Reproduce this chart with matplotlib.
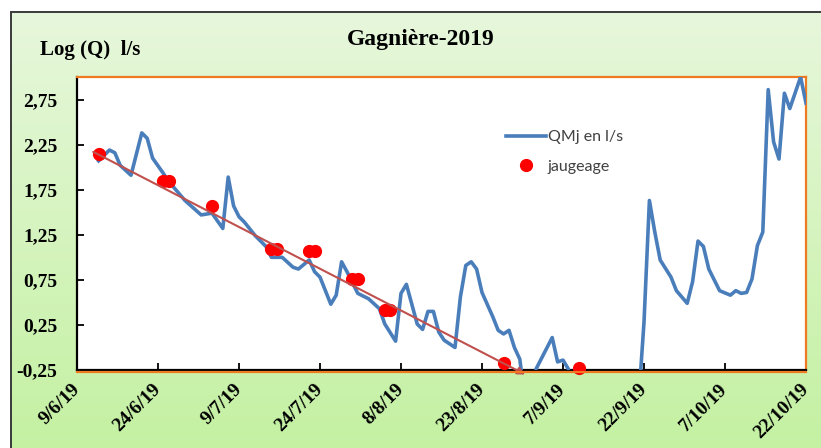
"""Gagnière 2019: log of daily flow with gaugings, Excel-style chart."""

import datetime as dt

import matplotlib

matplotlib.use("Agg")

import matplotlib.dates as mdates
import matplotlib.pyplot as plt
import numpy as np
from matplotlib.colors import LinearSegmentedColormap
from matplotlib.patches import Rectangle
from matplotlib.ticker import FixedLocator, FuncFormatter

# ── Data ────────────────────────────────────────────────────────────
# QMj: log10 of the daily mean flow (l/s); values under -0,25 fall off the axis
qmj_dates = [
    "2019-06-13", "2019-06-15", "2019-06-16", "2019-06-17", "2019-06-19",
    "2019-06-21", "2019-06-22", "2019-06-23", "2019-06-25", "2019-06-26",
    "2019-06-29", "2019-07-02", "2019-07-04", "2019-07-06", "2019-07-07",
    "2019-07-08", "2019-07-09", "2019-07-10", "2019-07-12", "2019-07-14",
    "2019-07-15", "2019-07-17", "2019-07-19", "2019-07-20", "2019-07-22",
    "2019-07-23", "2019-07-24", "2019-07-26", "2019-07-27", "2019-07-28",
    "2019-07-29", "2019-07-31", "2019-08-02", "2019-08-04", "2019-08-05",
    "2019-08-07", "2019-08-08", "2019-08-09", "2019-08-11", "2019-08-12",
    "2019-08-13", "2019-08-14", "2019-08-15", "2019-08-16", "2019-08-18",
    "2019-08-19", "2019-08-20", "2019-08-21", "2019-08-22", "2019-08-23",
    "2019-08-25", "2019-08-26", "2019-08-27", "2019-08-28", "2019-08-29",
    "2019-08-30", "2019-08-31", "2019-09-01", "2019-09-02", "2019-09-05",
    "2019-09-06", "2019-09-07", "2019-09-08", "2019-09-09", "2019-09-21",
    "2019-09-22", "2019-09-23", "2019-09-24", "2019-09-25", "2019-09-27",
    "2019-09-28", "2019-09-30", "2019-10-01", "2019-10-02", "2019-10-03",
    "2019-10-04", "2019-10-06", "2019-10-08", "2019-10-09", "2019-10-10",
    "2019-10-11", "2019-10-12", "2019-10-13", "2019-10-14", "2019-10-15",
    "2019-10-16", "2019-10-17", "2019-10-18", "2019-10-19", "2019-10-21",
    "2019-10-22",
]
qmj_log = [
    2.07, 2.19, 2.16, 2.02, 1.91,
    2.38, 2.32, 2.10, 1.93, 1.84,
    1.63, 1.47, 1.49, 1.32, 1.89,
    1.57, 1.45, 1.39, 1.24, 1.12,
    1.00, 1.00, 0.89, 0.87, 0.97,
    0.84, 0.78, 0.48, 0.58, 0.95,
    0.84, 0.60, 0.54, 0.43, 0.26,
    0.07, 0.60, 0.70, 0.26, 0.20,
    0.40, 0.40, 0.17, 0.08, 0.00,
    0.56, 0.91, 0.95, 0.87, 0.61,
    0.34, 0.19, 0.15, 0.19, 0.00,
    -0.13, -0.60, -0.60, -0.24, 0.11,
    -0.16, -0.14, -0.24, -0.60, -0.60,
    0.28, 1.63, 1.28, 0.97, 0.78,
    0.63, 0.49, 0.73, 1.18, 1.12,
    0.87, 0.63, 0.58, 0.63, 0.60,
    0.61, 0.76, 1.13, 1.28, 2.86,
    2.28, 2.09, 2.82, 2.65, 3.00,
    2.71,
]

jaug_dates = [
    "2019-06-13", "2019-06-25", "2019-06-26", "2019-07-04", "2019-07-15",
    "2019-07-16", "2019-07-22", "2019-07-23", "2019-07-30", "2019-07-31",
    "2019-08-05", "2019-08-06", "2019-08-27", "2019-09-10",
]
jaug_log = [
    2.15, 1.85, 1.85, 1.57, 1.09,
    1.09, 1.07, 1.07, 0.76, 0.76,
    0.42, 0.42, -0.17, -0.23,
]

# hand-drawn recession arrow (start, end)
trend_dates = ["2019-06-12", "2019-08-31"]
trend_log = [2.17, -0.30]

x_ticks = ["2019-06-09", "2019-06-24", "2019-07-09", "2019-07-24", "2019-08-08",
           "2019-08-23", "2019-09-07", "2019-09-22", "2019-10-07", "2019-10-22"]
y_ticks = [-0.25, 0.25, 0.75, 1.25, 1.75, 2.25, 2.75]

# ── Style ───────────────────────────────────────────────────────────
SERIF = "Liberation Serif"
BLUE = "#4a7ebb"
RED = "#ff0000"
ARROW = "#c0504d"
ORANGE = "#f07a22"
W, H = 821, 448


def to_dates(values):
    return [dt.datetime.strptime(v, "%Y-%m-%d") for v in values]


fig = plt.figure(figsize=(W / 100, H / 100), dpi=100)
fig.patch.set_facecolor("white")

# green gradient chart area with its dark frame
bg = fig.add_axes([11 / W, 0, 1 - 11 / W, 1 - 12 / H])
bg.set_axis_off()
cmap = LinearSegmentedColormap.from_list("grn", ["#e7f7dc", "#c4f1a2"])
bg.imshow(np.linspace(0, 1, 256).reshape(-1, 1), aspect="auto", cmap=cmap,
          extent=[0, 1, 0, 1], origin="upper")
bg.set_xlim(0, 1)
bg.set_ylim(0, 1)
bg.add_patch(Rectangle((0, -0.1), 1.2, 1.1, fill=False, edgecolor="#3a3a3a",
                       linewidth=1.4, transform=bg.transAxes, clip_on=False))

ax = fig.add_axes([77 / W, (H - 370) / H, (806 - 77) / W, (370 - 77) / H])
ax.set_facecolor("white")

ax.plot(to_dates(qmj_dates), qmj_log, color=BLUE, linewidth=2.6,
        solid_joinstyle="round", label="QMj en l/s", zorder=3)
ax.plot(to_dates(jaug_dates), jaug_log, linestyle="none", marker="o",
        markersize=8.5, color=RED, label="jaugeage", zorder=4, clip_on=False)

td = to_dates(trend_dates)
ax.annotate("", xy=(td[1], trend_log[1]), xytext=(td[0], trend_log[0]),
            arrowprops=dict(arrowstyle="-|>", color=ARROW, lw=1.5,
                            mutation_scale=11, shrinkA=0, shrinkB=0),
            annotation_clip=False, zorder=5)

ax.set_xlim(dt.datetime(2019, 6, 9), dt.datetime(2019, 10, 22))
ax.set_ylim(-0.25, 3.0)

ax.xaxis.set_major_locator(FixedLocator(mdates.date2num(to_dates(x_ticks))))
ax.xaxis.set_major_formatter(FuncFormatter(
    lambda v, _: (lambda d: f"{d.day}/{d.month}/{d:%y}")(mdates.num2date(v))))
ax.yaxis.set_major_locator(FixedLocator(y_ticks))
ax.yaxis.set_major_formatter(FuncFormatter(lambda v, _: f"{v:.2f}".replace(".", ",")))

ax.tick_params(direction="in", length=5, width=1.3, color="black")
ax.tick_params(axis="y", pad=14)
ax.tick_params(axis="x", pad=12)
for lab in ax.get_yticklabels():
    lab.set_fontfamily(SERIF)
    lab.set_fontweight("bold")
    lab.set_fontsize(14)
for lab in ax.get_xticklabels():
    lab.set_fontfamily(SERIF)
    lab.set_fontweight("bold")
    lab.set_fontsize(14)
    lab.set_rotation(45)
    lab.set_horizontalalignment("right")
    lab.set_verticalalignment("center")
    lab.set_rotation_mode("anchor")

for side in ("top", "right"):
    ax.spines[side].set_color(ORANGE)
    ax.spines[side].set_linewidth(1.6)
for side in ("left", "bottom"):
    ax.spines[side].set_color("black")
    ax.spines[side].set_linewidth(1.6)
ax.plot([0, 1], [-0.006, -0.006], color=ORANGE, lw=1.6, transform=ax.transAxes,
        clip_on=False, zorder=6)

leg = ax.legend(loc="upper left", bbox_to_anchor=(0.58, 0.84), frameon=False,
                prop={"family": "Lato", "size": 11.5}, handlelength=2.5,
                handletextpad=0.1, labelspacing=0.95, borderaxespad=0)
for t in leg.get_texts():
    t.set_color("#404040")

fig.text(421 / W, 1 - 40 / H, "Gagnière-2019", ha="center", va="center",
         family=SERIF, fontweight="bold", fontsize=17)
fig.text(40 / W, 1 - 50 / H, "Log (Q)  l/s", ha="left", va="center",
         family=SERIF, fontweight="bold", fontsize=15)

fig.savefig("out.png", dpi=100)
